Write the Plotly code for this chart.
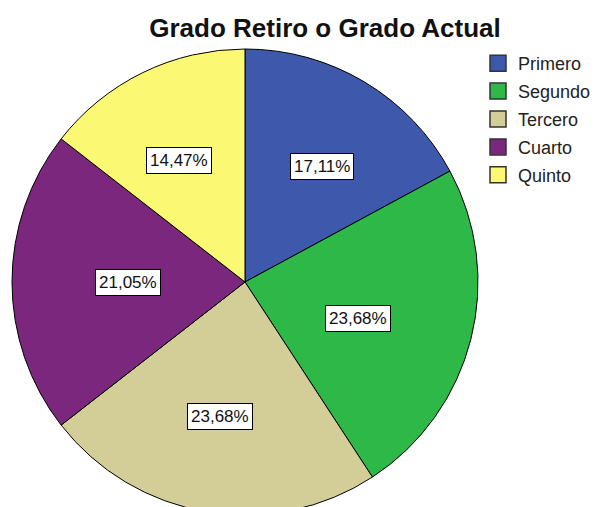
import math
import plotly.graph_objects as go

# ---- data ----
categories = ["Primero", "Segundo", "Tercero", "Cuarto", "Quinto"]
counts = [13, 18, 18, 16, 11]
colors = ["#3E58AC", "#2EB848", "#D3CE97", "#7B277D", "#FBF873"]
title_text = "Grado Retiro o Grado Actual"

FONT = "Arial, Liberation Sans, sans-serif"
W, H = 606, 515
ML, MT, MB = 12, 49, 0
MR = W - ML - 466

total = sum(counts)
pct_labels = [f"{c / total * 100:.2f}".replace(".", ",") + "%" for c in counts]

fig = go.Figure()
fig.add_trace(go.Pie(
    labels=categories, values=counts, sort=False, direction="clockwise",
    rotation=0, textinfo="none", showlegend=False,
    marker=dict(colors=colors, line=dict(color="#000000", width=1)),
    domain=dict(x=[0, 1], y=[0, 1]),
))

# legend entries
for name, col in zip(categories, colors):
    fig.add_trace(go.Scatter(
        x=[None], y=[None], mode="markers", name=name, legendgroup=name,
        marker=dict(symbol="square", size=16, color=col,
                    line=dict(color="#333333", width=1.5)),
    ))

# percentage label boxes placed at slice mid-angles
k = 0.645
cum = 0
annotations = []
for c, txt in zip(counts, pct_labels):
    mid = (cum + c / 2) / total * 2 * math.pi
    cum += c
    annotations.append(dict(
        x=0.5 + 0.5 * k * math.sin(mid), y=0.5 + 0.5 * k * math.cos(mid),
        xref="paper", yref="paper", text=txt, showarrow=False,
        font=dict(family=FONT, size=17, color="#111111"),
        bgcolor="#FFFFFF", bordercolor="#000000", borderwidth=1, borderpad=3,
    ))

fig.update_layout(
    width=W, height=H,
    margin=dict(l=ML, r=MR, t=MT, b=MB),
    paper_bgcolor="#FFFFFF", plot_bgcolor="#FFFFFF",
    title=dict(text="<b>" + title_text + "</b>", x=325 / W, xref="container",
               xanchor="center", y=1 - 28 / H, yref="container", yanchor="middle",
               font=dict(family=FONT, size=26, color="#111111")),
    xaxis=dict(visible=False), yaxis=dict(visible=False),
    legend=dict(x=1.0, xanchor="left", y=1 + (49 - 45) / 466, yanchor="top",
                font=dict(family=FONT, size=18, color="#222222"),
                tracegroupgap=1.5, bgcolor="rgba(0,0,0,0)"),
    annotations=annotations,
)

fig.write_html("out.html", config={"displayModeBar": False}, post_script=(
    "document.body.style.margin='0';document.body.style.overflow='hidden';"
    "document.documentElement.style.overflow='hidden';"))
